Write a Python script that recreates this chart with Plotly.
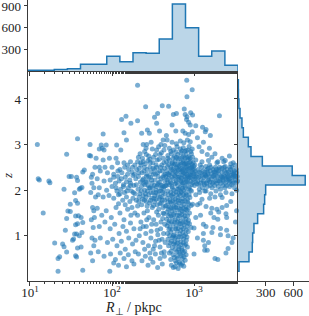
import plotly.graph_objects as go

# ---------------- marginal histograms ----------------
R_bin_edges = [9.46, 13.7, 19.8, 28.6, 41.3, 59.7, 86.3, 124.7, 180.3, 260.6,
               376.7, 544.5, 787, 1138, 1644, 2377, 3436]
R_counts = [10, 10, 20, 30, 92, 92, 203, 129, 254, 245, 443, 928, 600, 203, 277, 78]

z_bin_edges = [0.22, 0.43, 0.64, 0.85, 1.06, 1.27, 1.48, 1.69, 1.90, 2.11, 2.32,
               2.53, 2.74, 2.95, 3.16, 3.37, 3.58, 3.79, 4.00, 4.21, 4.42]
z_counts = [11, 119, 155, 159, 173, 213, 278, 289, 300, 729, 588, 264, 141, 112,
            58, 43, 22, 10, 5, 4]

top_ticks = [300, 600, 900]
right_ticks = [300, 600]
x_tick_vals = [10, 100, 1000]
x_tick_text = ["10<sup>1</sup>", "10<sup>2</sup>", "10<sup>3</sup>"]
y_tick_vals = [1, 2, 3, 4]

# ---------------- scatter points (R_perp [pkpc], z) ----------------
pts_left = [(12.3,3.0),(12.6,2.25),(13.0,2.22),(14.5,1.5),(17,2.2),(17.5,2.16),(20,0.84),(22,0.5),
            (22,0.22),(23,0.54),(25,0.82),(26,0.76),(26,2.02),(28,0.64),(27,1.12),(28,1.38),(29,1.54),
            (31,1.53),(31,1.69),(30,2.3),(28,2.79),(36,1.77),(38,1.71),(35,1.94),(37,2.28),(38,2.21),
            (40,2.02),(41,2.04),(43,2.06),(36,1.43),(39,1.44),(42,1.40),(44,1.29),(36,1.24),(38,1.26),
            (35,1.04),(37,1.04),(40,1.0),(43,1.07),(34,0.93),(33,0.9),(36,0.56),(37,0.53),(44,0.24),
            (38,0.73),(42,0.75),(38,3.13),(44,2.40),(46,2.44),(32,2.3),
            (54,3.0),(53,2.76),(55,2.75),(56,2.28),(58,2.35),(57,2.15),(60,2.05),(55,1.95),(58,1.62),
            (60,1.55),(56,1.35),(59,1.18),(57,0.95),(60,0.78),(55,0.62),(58,0.45),(62,2.5),(63,1.85),
            (61,1.4),(62,0.9)]

pts_mid = [(78,3.23),(85,2.99),(74,2.99),(70,2.9),(76,2.92),(80,2.88),(114,2.99),(128,2.88),(140,3.26),
           (150,3.1),(131,3.55),(148,3.62),(170,3.47),(205,3.52),(205,4.3),(257,3.83),(360,3.68),
           (350,3.47),(230,3.25),(270,3.32),(285,3.25),(240,3.0),(265,3.0),
           (78,2.66),(93,2.7),(112,2.7),(117,2.6),(64,2.7),(70,2.5),(82,2.5),(100,2.5),(125,2.45),
           (140,2.6),(155,2.55),(168,2.62),(160,2.45),(175,2.4),(190,2.55),(72,2.42),(88,2.38),
           (105,2.35),(118,2.3),(132,2.38),(145,2.28),(180,2.32),(195,2.25),(66,2.25),(80,2.2),
           (95,2.22),(110,2.15),(122,2.2),(138,2.12),(150,2.18),(165,2.22),(185,2.1),(70,2.05),
           (86,2.0),(100,2.08),(115,1.98),(128,2.02),(142,1.95),(158,2.05),(172,1.98),(190,1.92),
           (68,1.9),(78,1.85),(92,1.88),(105,1.82),(120,1.9),(135,1.78),(150,1.85),(165,1.75),
           (180,1.82),(198,1.78),
           (66,1.6),(75,1.45),(85,1.55),(98,1.4),(112,1.62),(125,1.5),(140,1.35),(155,1.58),(170,1.45),
           (190,1.5),(70,1.2),(82,1.3),(95,1.15),(108,1.25),(122,1.05),(136,1.2),(150,1.1),(168,1.28),
           (185,1.15),(72,0.95),(88,0.85),(102,0.92),(115,0.78),(130,0.88),(145,0.7),(160,0.95),
           (178,0.82),(196,0.9),(68,0.65),(80,0.55),(96,0.6),(110,0.48),(126,0.62),(140,0.5),
           (158,0.58),(175,0.45),(192,0.65),(94,0.22),(105,0.4),(120,0.35),(150,0.32),(185,0.38)]

pts_centre = [(205,2.62),(215,2.48),(225,2.55),(235,2.7),(245,2.42),(255,2.58),(265,2.35),(275,2.65),
              (290,2.5),(300,2.4),(315,2.6),(330,2.45),(345,2.55),(360,2.38),(375,2.68),(390,2.5),
              (410,2.42),(430,2.6),(445,2.35),
              (210,2.3),(222,2.18),(232,2.38),(242,2.25),(252,2.12),(262,2.3),(272,2.2),(284,2.05),
              (296,2.28),(308,2.15),(320,2.35),(335,2.22),(350,2.08),(365,2.3),(380,2.18),(395,2.25),
              (412,2.1),(428,2.32),(440,2.2),
              (208,2.02),(218,1.92),(228,2.08),(240,1.88),(250,2.0),(260,1.85),(270,1.98),(280,1.9),
              (292,2.05),(305,1.82),(318,1.95),(332,1.88),(346,2.0),(362,1.9),(378,1.8),(392,1.98),
              (408,1.86),(425,2.02),(442,1.92),
              (212,1.75),(230,1.68),(248,1.78),(268,1.65),(288,1.72),(310,1.62),(330,1.75),(355,1.68),
              (372,1.58),(400,1.72),(420,1.62),(438,1.78),
              (220,2.8),(250,2.85),(280,2.75),(310,2.9),(340,2.78),(370,2.95),(400,2.82),(430,2.88),
              (300,3.05),(420,3.1),(380,3.3),(330,3.6),(410,3.85),
              (205,1.45),(225,1.3),(245,1.5),(262,1.2),(282,1.4),(300,1.1),(322,1.35),(345,1.25),
              (368,1.45),(392,1.15),(415,1.38),(440,1.25),(215,1.0),(238,0.85),(258,1.05),(278,0.78),
              (298,0.95),(318,0.7),(340,0.88),(362,1.02),(385,0.75),(408,0.92),(432,0.65),(210,0.6),
              (232,0.45),(255,0.55),(275,0.35),(295,0.5),(315,0.42),(338,0.6),(360,0.3),(385,0.5),
              (410,0.38),(435,0.55),(270,1.55),(350,1.52),(430,1.48)]

pts_centre_2 = [(105,2.28),(118,2.42),(130,2.25),(143,2.5),(155,2.35),(168,2.15),(178,2.5),(188,2.35),
                (200,2.45),(212,2.38),(224,2.6),(236,2.22),(248,2.5),(258,2.18),(268,2.45),(280,2.3),
                (292,2.6),(304,2.22),(316,2.48),(326,2.1),(338,2.35),(352,2.5),(366,2.15),(382,2.42),
                (396,2.1),(404,2.55),(418,2.28),(436,2.48),(448,2.1),(112,2.05),(125,1.92),(138,2.08),
                (152,1.98),(168,2.1),(182,1.95),(198,2.12),(214,1.85),(228,1.98),(244,2.15),(256,1.92),
                (276,2.1),(298,1.95),(312,2.05),(326,1.82),(342,1.95),(358,2.12),(374,1.98),(388,1.85),
                (402,2.05),(416,1.95),(434,2.08),(120,1.7),(145,1.68),(175,1.62),(205,1.65),(235,1.8),
                (262,1.75),(295,1.78),(320,1.66),(345,1.8),(385,1.7),(410,1.78),(445,1.65),(210,2.72),
                (240,2.62),(262,2.78),(290,2.68),(320,2.72),(355,2.66),(385,2.78),(420,2.7),(260,2.92),
                (350,2.88),(395,3.0),(440,2.98),
                (220,1.15),(265,1.35),(305,1.25),(355,1.12),(395,1.3),(425,1.05),(250,0.7),(330,0.78),
                (400,0.62),(445,0.85),(290,0.62),(375,0.9),(240,1.2),(420,1.5)]

pts_column = [(560,0.3),(640,0.28),(700,0.35),(610,0.4),(750,0.33),
              (520,0.48),(590,0.45),(660,0.42),(720,0.5),(780,0.46),(620,0.55),
              (500,0.62),(555,0.58),(615,0.65),(680,0.6),(740,0.63),(800,0.58),(650,0.7),
              (490,0.78),(545,0.74),(600,0.8),(655,0.76),(710,0.72),(770,0.79),(830,0.75),(580,0.86),
              (480,0.92),(530,0.88),(585,0.95),(635,0.9),(690,0.86),(745,0.93),(805,0.9),(660,0.98),(560,1.0),
              (475,1.05),(520,1.08),(570,1.02),(620,1.1),(675,1.04),(730,1.07),(790,1.03),(850,1.09),(600,1.15),
              (470,1.22),(510,1.18),(555,1.25),(605,1.2),(655,1.27),(705,1.19),(760,1.24),(820,1.2),(880,1.26),(580,1.3),
              (465,1.36),(500,1.33),(545,1.4),(590,1.35),(640,1.38),(690,1.32),(740,1.4),(795,1.36),(855,1.34),(620,1.45),
              (470,1.52),(505,1.48),(540,1.55),(580,1.5),(625,1.57),(670,1.49),(715,1.54),(765,1.51),(820,1.56),(880,1.5),(600,1.62),
              (460,1.66),(495,1.63),(530,1.7),(570,1.64),(610,1.68),(655,1.72),(700,1.65),(750,1.69),(800,1.63),(860,1.7),(920,1.66),(640,1.78),
              (470,1.82),(510,1.79),(550,1.85),(590,1.8),(635,1.83),(680,1.88),(725,1.81),(775,1.86),(830,1.8),(890,1.84),(560,1.92),(700,1.95),
              (480,1.98),(520,1.95),(565,2.0),(605,1.96),(650,2.02),(695,1.97),(745,2.0),(800,1.95),(860,2.03),(930,1.98)]

pts_column_2 = [(530,0.35),(590,0.32),(670,0.38),(725,0.4),(575,0.52),(635,0.5),(700,0.56),(755,0.54),
                (525,0.66),(590,0.7),(655,0.64),(715,0.68),(770,0.66),(510,0.84),(565,0.82),(625,0.84),
                (685,0.8),(740,0.84),(795,0.82),(505,1.0),(545,0.96),(610,0.98),(700,0.97),(760,1.0),
                (820,0.97),(495,1.14),(545,1.14),(640,1.16),(690,1.12),(740,1.15),(805,1.13),(490,1.28),
                (530,1.3),(625,1.3),(680,1.26),(730,1.29),(785,1.3),(840,1.28),(485,1.44),(525,1.44),
                (565,1.46),(660,1.44),(705,1.46),(775,1.44),(835,1.44),(485,1.58),(520,1.6),(560,1.6),
                (650,1.6),(690,1.58),(740,1.6),(790,1.58),(850,1.6),(480,1.74),(515,1.74),(550,1.76),
                (590,1.74),(685,1.76),(725,1.75),(780,1.76),(835,1.74),(490,1.9),(530,1.88),(610,1.9),
                (655,1.92),(745,1.9),(805,1.9),(870,1.9),(545,2.04),(625,2.02),(720,2.04),(780,2.05),(900,2.0)]

pts_band = [(460,2.1),(500,2.12),(540,2.08),(585,2.14),(630,2.1),(675,2.06),(720,2.13),(770,2.09),(825,2.15),(880,2.07),(940,2.12),(1010,2.1),(1080,2.14),
            (470,2.22),(515,2.18),(560,2.25),(605,2.2),(650,2.24),(700,2.17),(750,2.23),(800,2.19),(855,2.26),(915,2.2),(980,2.24),(1050,2.18),
            (455,2.3),(495,2.34),(535,2.28),(580,2.32),(625,2.36),(670,2.29),(715,2.33),(765,2.3),(815,2.35),(870,2.28),(930,2.33),(995,2.3),(1070,2.36),
            (465,2.42),(510,2.38),(555,2.45),(600,2.4),(645,2.44),(690,2.39),(740,2.46),(790,2.41),(845,2.43),(900,2.38),(960,2.45),(1030,2.41),
            (475,2.52),(520,2.49),(565,2.55),(610,2.5),(660,2.53),(710,2.48),(760,2.56),(810,2.51),(865,2.54),(925,2.49),(990,2.52),
            (460,2.62),(500,2.66),(545,2.6),(590,2.64),(640,2.68),(690,2.61),(740,2.65),(795,2.6),(850,2.67),(910,2.63),(975,2.6),(1050,2.66),
            (480,2.76),(530,2.8),(580,2.74),(635,2.78),(690,2.82),(745,2.75),(800,2.79),(860,2.73),(930,2.8),
            (500,2.92),(560,2.88),(620,2.95),(680,2.9),(740,2.93),(800,2.87),(870,2.96),(950,2.9),
            (470,3.1),(540,3.05),(610,3.02),(680,3.08),(750,3.04),(830,3.1),(900,3.06),
            (460,3.2),(600,3.3),(730,3.3),(780,3.25),(860,3.22),(950,3.28)]

pts_band_2 = [(480,2.16),(530,2.15),(610,2.16),(690,2.2),(735,2.16),(790,2.25),(840,2.18),(900,2.28),
              (960,2.16),(1030,2.26),(490,2.26),(545,2.36),(600,2.3),(640,2.28),(700,2.27),(740,2.38),
              (780,2.36),(830,2.3),(890,2.34),(950,2.4),(1000,2.36),(480,2.36),(530,2.46),(580,2.42),
              (625,2.48),(675,2.45),(720,2.42),(770,2.5),(825,2.46),(880,2.48),(940,2.5),(1000,2.46),
              (1060,2.3),(490,2.56),(540,2.58),(590,2.57),(635,2.56),(685,2.56),(730,2.6),(780,2.58),
              (830,2.58),(885,2.6),(950,2.56),(1020,2.55),(480,2.7),(555,2.7),(610,2.72),(665,2.7),
              (715,2.72),(770,2.7),(830,2.71),(895,2.7),(960,2.72),(520,2.85),(600,2.84),(710,2.86),
              (770,2.85),(840,2.88),(910,2.85)]

pts_top = [(540,3.43),(810,3.55),(860,3.49),(900,3.43),(1050,3.41),(560,3.66),(610,3.68),(760,3.78),
           (780,3.66),(820,3.61),(910,3.7),(960,3.65),(490,3.84),(820,4.05),(950,4.2),(815,4.41),
           (1270,3.38),(1400,3.33),(1370,3.28),(1580,3.2),(1300,3.05),(1540,2.92),(1800,2.8),(2200,2.7),
           (2400,2.65),(2040,3.63),(1150,2.95),(1250,2.85),(1450,2.78),(1650,2.72),(1950,2.62),
           (2700,2.75),(3000,2.6),(1100,3.15)]

pts_right = [(1120,2.45),(1180,2.3),(1240,2.5),(1300,2.2),(1360,2.4),(1420,2.15),(1480,2.35),(1550,2.55),
             (1620,2.25),(1700,2.45),(1780,2.1),(1860,2.38),(1950,2.2),(2050,2.5),(2150,2.3),(2250,2.1),
             (2350,2.42),(2450,2.25),(2560,2.35),(2680,2.18),(2800,2.45),(2920,2.28),(3050,2.38),(3200,2.22),(3350,2.3),
             (1150,2.12),(1210,2.38),(1270,2.05),(1330,2.28),(1390,2.52),(1450,2.08),(1510,2.22),(1580,2.42),
             (1660,2.05),(1740,2.32),(1820,2.5),(1900,2.15),(2000,2.35),(2100,2.02),(2200,2.4),(2300,2.2),
             (2400,2.52),(2500,2.1),(2620,2.3),(2740,2.5),(2860,2.12),(2980,2.35),(3120,2.05),(3280,2.45),
             (1130,2.28),(1190,2.55),(1260,2.32),(1340,2.12),(1410,2.3),(1490,2.48),(1570,2.1),(1640,2.36),
             (1720,2.18),(1800,2.28),(1880,2.45),(1980,2.08),(2080,2.25),(2180,2.48),(2280,2.32),(2380,2.05),
             (2480,2.38),(2600,2.22),(2720,2.08),(2840,2.32),(2960,2.2),(3100,2.42),(3250,2.15),
             (1170,1.95),(1350,1.98),(1600,1.92),(1850,1.98),(2100,1.9),(2450,1.95),(2900,1.92),(3300,2.0),
             (1250,2.62),(1500,2.65),(1900,2.6),(2300,2.62),(2800,2.58),(3150,2.55),
             (1160,2.02),(1400,1.98),(960,1.69),(1100,1.68),(1180,1.71),(1550,1.82),(1800,1.85),(2200,1.84),
             (1400,1.64),(1650,1.6),(1900,1.58),(2200,1.62),(2500,1.66),(1600,1.5),(2000,1.52),(2450,1.48),
             (1750,1.4),(1950,1.36),(2500,1.4),(920,1.18),(1000,1.17),(1300,1.25),(1400,1.2),(1700,1.18),
             (2100,1.16),(2500,1.12),(1300,1.05),(1650,1.07),(2100,1.02),(2600,1.0),(1300,0.9),(1500,0.85),
             (1350,0.78),(1000,0.6),(1350,0.68),(1450,0.68),(1800,0.5),(1950,0.48),(2600,0.72),(2450,0.62),
             (3000,0.95),(3200,1.3),(2800,1.75),(3300,1.55),(1050,1.4),(1200,1.45),(1100,0.95),(1050,1.9),
             (1250,1.8),(2900,0.85)]

pts_right_2 = [(1110,2.2),(1160,2.4),(1220,2.22),(1280,2.42),(1320,2.15),(1380,2.32),(1440,2.45),(1470,2.2),
               (1530,2.3),(1600,2.5),(1680,2.15),(1760,2.4),(1840,2.2),(1920,2.3),(2020,2.45),(2120,2.15),
               (2220,2.28),(2320,2.5),(2420,2.15),(2520,2.45),(2640,2.4),(2760,2.2),(2880,2.4),(3000,2.15),
               (3150,2.32),(3300,2.38),(1200,2.15),(1460,2.4),(1700,2.3),(1960,2.42),(2240,2.22),(2540,2.28),
               (2900,2.5),(3200,2.3),(1350,2.35),(1560,2.18),(1800,2.4),(2060,2.2),(2340,2.3),(2660,2.25),
               (3000,2.3),(3380,2.2)]

all_pts = (pts_left + pts_mid + pts_centre + pts_centre_2 + pts_column + pts_column_2 +
           pts_band + pts_band_2 + pts_top + pts_right + pts_right_2)
R_perp = [p[0] for p in all_pts]
z_vals = [p[1] for p in all_pts]

# ---------------- styling ----------------
BLUE = "rgb(31,119,180)"
FILL = "rgba(31,119,180,0.3)"
AX = "#3a3a3a"
FONT = "Liberation Serif"

fig = go.Figure()

fig.add_trace(go.Scatter(x=R_perp, y=z_vals, mode="markers",
                         marker=dict(size=5, color="rgba(31,119,180,0.6)", line=dict(width=0)),
                         xaxis="x", yaxis="y", showlegend=False, hoverinfo="skip", cliponaxis=False))

# top histogram as a filled step
tx = [R_bin_edges[0]] + R_bin_edges[:-1] + [R_bin_edges[-1]]
ty = [0] + R_counts + [0]
fig.add_trace(go.Scatter(x=tx, y=ty, mode="lines", line=dict(shape="hv", color=BLUE, width=1.5),
                         fill="tozeroy", fillcolor=FILL, xaxis="x2", yaxis="y2",
                         showlegend=False, hoverinfo="skip"))

# right histogram as a filled step
rx = [0] + z_counts + [0]
ry = [z_bin_edges[0]] + z_bin_edges[:-1] + [z_bin_edges[-1]]
fig.add_trace(go.Scatter(x=rx, y=ry, mode="lines", line=dict(shape="vh", color=BLUE, width=1.5),
                         fill="tozerox", fillcolor=FILL, xaxis="x3", yaxis="y3",
                         showlegend=False, hoverinfo="skip"))

W, H = 309, 316
xdom = [28 / W, 238 / W]
ydom = [(H - 281) / H, (H - 71) / H]
xr = [0.976, 3.536]
yr = [0.006, 4.614]

common = dict(showline=True, linecolor=AX, linewidth=1, ticks="outside", ticklen=3.5,
              tickwidth=1, tickcolor=AX, showgrid=False, zeroline=False, automargin=False,
              ticklabeloverflow="allow",
              tickfont=dict(family=FONT, size=13, color="#222"))
minor_log = dict(ticks="outside", ticklen=2, tickwidth=0.8, tickcolor=AX, showgrid=False)

fig.update_layout(
    width=W, height=H, margin=dict(l=0, r=0, t=0, b=0, autoexpand=False),
    paper_bgcolor="white", plot_bgcolor="white",
    xaxis=dict(domain=xdom, type="log", range=xr, anchor="y", tickvals=x_tick_vals,
               ticktext=x_tick_text, minor=minor_log, ticklabelstandoff=-4, **common),
    yaxis=dict(domain=ydom, range=yr, anchor="x", tickvals=y_tick_vals, **common),
    xaxis2=dict(domain=xdom, type="log", range=xr, anchor="y2", tickvals=x_tick_vals,
                showticklabels=False, minor=minor_log, **common),
    yaxis2=dict(domain=[(H - 71) / H, 1.0], range=[0, 983], anchor="x2", tickvals=top_ticks, **common),
    xaxis3=dict(domain=[238 / W, 1.0], range=[0, 770], anchor="y3", tickvals=right_ticks,
                ticklabelstandoff=-4, **common),
    yaxis3=dict(domain=ydom, range=yr, anchor="x3", tickvals=y_tick_vals, showticklabels=False, **common),
    annotations=[
        dict(text="<i>R</i><sub>⊥</sub> / pkpc", x=133 / W, y=(H - 308) / H, xref="paper", yref="paper",
             xanchor="center", yanchor="middle",
             showarrow=False, font=dict(family=FONT, size=14, color="#222")),
        dict(text="<i>z</i>", x=7 / W, y=(H - 176) / H, xref="paper", yref="paper", textangle=-90,
             xanchor="center", yanchor="middle",
             showarrow=False, font=dict(family=FONT, size=13, color="#222")),
    ],
)

fig.write_html("out.html", config={"displayModeBar": False},
               post_script="document.body.style.margin='0';document.body.style.padding='0';"
                           "document.documentElement.style.overflow='hidden';")
